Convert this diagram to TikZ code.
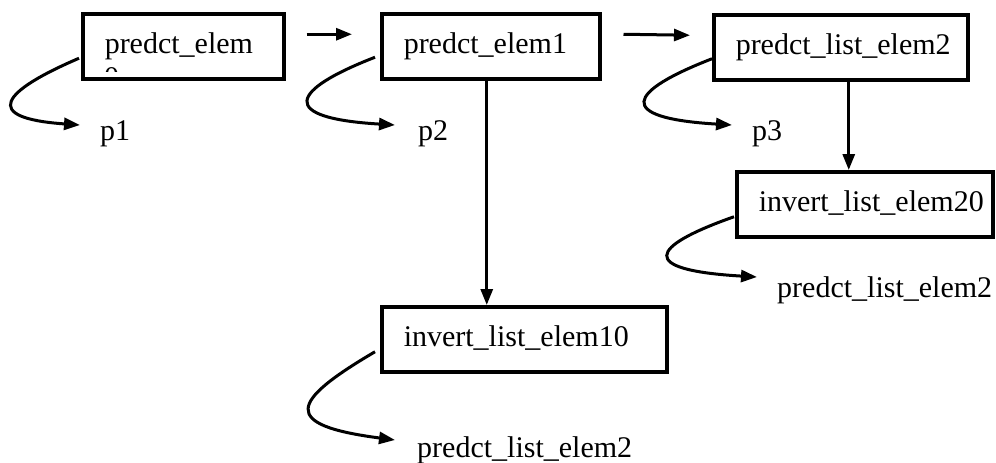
\documentclass[tikz,border=0pt]{standalone}
\usepackage{fontspec}
\setmainfont{Liberation Serif}
\usetikzlibrary{arrows.meta}
\begin{document}
\begin{tikzpicture}[x=1pt,y=-1pt,
  every node/.style={font=\fontsize{30}{36}\selectfont},
  box/.style={draw, line width=3.5pt, anchor=north west, minimum height=65pt,
    inner xsep=22pt, inner ysep=0pt, text height=21pt, text depth=7pt, align=left},
  lab/.style={anchor=base west, inner sep=0pt},
  arr/.style={line width=3pt, -{Triangle[length=16pt,width=12pt]}}]
\useasboundingbox (0,0) rectangle (996,463);
% boxes
\node[box, text width=157pt] (A) at (81,12) {predct\_elem};
\node[box, text width=174pt] (B) at (380,12) {predct\_elem1};
\node[box, text width=210pt] (C) at (712,13) {predct\_list\_elem2};
\node[box, text width=212pt] (D) at (735,170) {invert\_list\_elem20};
\node[box, text width=241pt] (E) at (380,305) {invert\_list\_elem10};
% clipped wrapped line of box A
\begin{scope}
  \clip (83,14) rectangle (280,71);
  \node[lab] (A0) at (104,87) {0};
\end{scope}
% labels
\node[lab] (p1) at (100,140) {p1};
\node[lab] (p2) at (418,140) {p2};
\node[lab] (p3) at (752,140) {p3};
\node[lab] (lD) at (777,297) {predct\_list\_elem2};
\node[lab] (lE) at (417,457) {predct\_list\_elem2};
% straight arrows
\draw[arr] ([shift={(21,-12)}]A.east) -- ([shift={(-28,-12)}]B.west);
\draw[arr] ([shift={(22,-12)}]B.east) -- ([shift={(-22,-12)}]C.west);
\draw[arr] ([xshift=-4pt]B.south) -- ([xshift=-4pt]B.south |- E.north);
\draw[arr] ([xshift=8pt]C.south) -- ([xshift=8pt]C.south |- D.north);
% curved arrows
\draw[arr] ([shift={(-2,12)}]A.west) .. controls +(-77,33) and +(-100,-7) .. ([shift={(-20,-15)}]p1.base west);
\draw[arr] ([shift={(-5,11)}]B.west) .. controls +(-85,33) and +(-118,-7) .. ([shift={(-23,-15)}]p2.base west);
\draw[arr] ([shift={(0,11.5)}]C.west) .. controls +(-85,33) and +(-118,-7) .. ([shift={(-20,-15)}]p3.base west);
\draw[arr] ([shift={(-1,12.5)}]D.west) .. controls +(-85,30) and +(-120,-7) .. ([shift={(-20,-20)}]lD.base west);
\draw[arr] ([shift={(-5,12.5)}]E.west) .. controls +(-85,50) and +(-115,-15) .. ([shift={(-22,-17)}]lE.base west);
\end{tikzpicture}
\end{document}
